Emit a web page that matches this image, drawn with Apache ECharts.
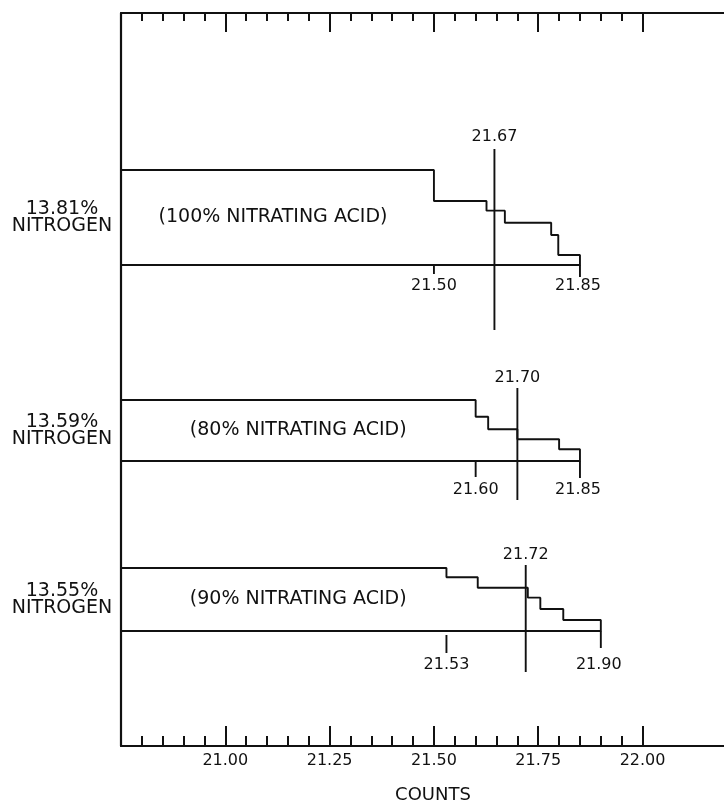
<!DOCTYPE html>
<html>
<head>
<meta charset="utf-8">
<script src="https://cdn.jsdelivr.net/npm/echarts@6/dist/echarts.min.js"></script>
<style>
html,body{margin:0;padding:0;background:#fff;}
#chart{width:724px;height:802px;}
</style>
</head>
<body>
<div id="chart"></div>
<script>
// ---------- DATA ----------
const xMin = 20.75, xMax = 22.20, tickMax = 22.00;
const tickValues = [21.00, 21.25, 21.50, 21.75, 22.00];
const tickLabels = ['21.00', '21.25', '21.50', '21.75', '22.00'];
const axisName = 'COUNTS';

const nitrogenLabels = ['13.81%\nNITROGEN', '13.59%\nNITROGEN', '13.55%\nNITROGEN'];
const acidLabels = ['(100% NITRATING ACID)', '(80% NITRATING ACID)', '(90% NITRATING ACID)'];

// step positions (counts) and remaining-fraction levels of each profile
const p1Steps  = [21.50, 21.626, 21.670, 21.781, 21.798, 21.85];
const p1Levels = [1, 0.674, 0.572, 0.445, 0.316, 0.105, 0];
const p2Steps  = [21.60, 21.63, 21.70, 21.80, 21.85];
const p2Levels = [1, 0.726, 0.520, 0.356, 0.192, 0];
const p3Steps  = [21.53, 21.605, 21.725, 21.755, 21.81, 21.90];
const p3Levels = [1, 0.852, 0.687, 0.529, 0.349, 0.175, 0];

const medianX    = [21.645, 21.70, 21.72];
const medianText = ['21.67', '21.70', '21.72'];
const startX     = [21.50, 21.60, 21.53];
const startText  = ['21.50', '21.60', '21.53'];
const endX       = [21.85, 21.85, 21.90];
const endText    = ['21.85', '21.85', '21.90'];

// ---------- LAYOUT / STYLE ----------
const INK = '#111111';
const FONT = 'DejaVu Sans';
const GL = 121, GW = 605;
const panels = [
  {top: 170, height: 95, medUp: 21, medDown: 65, medLbl: 12, sTick: [0, 9],  eTick: [0, 12], lblOff: 20.5, acidX: 20.84},
  {top: 400, height: 61, medUp: 12, medDown: 39, medLbl: 10, sTick: [0, 16], eTick: [0, 17], lblOff: 29,   acidX: 20.915},
  {top: 568, height: 63, medUp: 3,  medDown: 41, medLbl: 10, sTick: [4, 22], eTick: [0, 17], lblOff: 34,   acidX: 20.915}
];
const steps  = [p1Steps, p2Steps, p3Steps];
const levels = [p1Levels, p2Levels, p3Levels];

function buildProfile(s, l) {
  const pts = [[xMin, l[0]]];
  for (let i = 0; i < s.length; i++) {
    pts.push([s[i], l[i]]);
    pts.push([s[i], l[i + 1]]);
  }
  pts.push([xMin, 0]);
  return pts;
}

const grids = [
  {left: GL, top: 13, width: GW, height: 733, containLabel: false, outerBoundsMode: 'none'},
  {left: GL, top: 13, width: (tickMax - xMin) / (xMax - xMin) * GW, height: 733, containLabel: false, outerBoundsMode: 'none'}
];
panels.forEach(p => grids.push({left: GL, top: p.top, width: GW, height: p.height, containLabel: false, outerBoundsMode: 'none'}));

const hiddenX = (gi) => ({type: 'value', gridIndex: gi, min: xMin, max: xMax, show: false});
const hiddenY = (gi) => ({type: 'value', gridIndex: gi, min: 0, max: 1, show: false});

const xAxes = [
  {type: 'value', gridIndex: 0, position: 'bottom', min: xMin, max: xMax,
   axisLine: {show: true, lineStyle: {color: INK, width: 2.2}}, axisTick: {show: false}, axisLabel: {show: false}, splitLine: {show: false},
   name: axisName, nameLocation: 'middle', nameGap: 40,
   nameTextStyle: {fontFamily: FONT, fontSize: 18, color: INK, padding: [0, 0, 0, 19]}},
  {type: 'value', gridIndex: 0, position: 'top', min: xMin, max: xMax,
   axisLine: {show: true, lineStyle: {color: INK, width: 2.2}}, axisTick: {show: false}, axisLabel: {show: false}, splitLine: {show: false}},
  {type: 'value', gridIndex: 1, position: 'bottom', min: xMin, max: tickMax, interval: 0.25,
   axisLine: {show: false},
   axisTick: {show: true, inside: true, length: 20, lineStyle: {color: INK, width: 2}},
   minorTick: {show: true, splitNumber: 5, length: 10, lineStyle: {color: INK, width: 2}},
   axisLabel: {show: true, showMinLabel: false, margin: 7, fontFamily: FONT, fontSize: 16, color: INK,
     formatter: v => { const i = tickValues.findIndex(t => Math.abs(t - v) < 1e-6); return i >= 0 ? tickLabels[i] : ''; }},
   splitLine: {show: false}},
  {type: 'value', gridIndex: 1, position: 'top', min: xMin, max: tickMax, interval: 0.25,
   axisLine: {show: false},
   axisTick: {show: true, inside: true, length: 19, lineStyle: {color: INK, width: 2}},
   minorTick: {show: true, splitNumber: 5, length: 8, lineStyle: {color: INK, width: 2}},
   axisLabel: {show: false}, splitLine: {show: false}}
];
const yAxes = [
  {type: 'value', gridIndex: 0, min: 0, max: 1, position: 'left',
   axisLine: {show: true, lineStyle: {color: INK, width: 2.2}}, axisTick: {show: false}, axisLabel: {show: false}, splitLine: {show: false}},
  hiddenY(1)
];
panels.forEach((p, i) => { xAxes.push(hiddenX(i + 2)); yAxes.push(hiddenY(i + 2)); });

const series = [];
panels.forEach((p, k) => {
  series.push({
    type: 'line', xAxisIndex: k + 4, yAxisIndex: k + 2,
    data: buildProfile(steps[k], levels[k]),
    symbol: 'none', animation: false, clip: false,
    lineStyle: {color: INK, width: 1.9}
  });
  series.push({
    type: 'custom', xAxisIndex: k + 4, yAxisIndex: k + 2, clip: false, animation: false,
    data: [[medianX[k], 0]],
    renderItem: (params, api) => {
      const top = api.coord([medianX[k], 1])[1];
      const base = api.coord([medianX[k], 0])[1];
      const mx = api.coord([medianX[k], 0])[0];
      const sx = api.coord([startX[k], 0])[0];
      const ex = api.coord([endX[k], 0])[0];
      const left = api.coord([xMin, 0.5]);
      const acid = api.coord([p.acidX, 0.5]);
      const ls = {stroke: INK, lineWidth: 1.9};
      const ts = (text, x, y, align) => ({type: 'text', style: {text, x, y, align: align || 'center', verticalAlign: 'middle',
        fill: INK, font: '16px "' + FONT + '"'}});
      const children = [
        {type: 'line', shape: {x1: mx, y1: top - p.medUp, x2: mx, y2: base + p.medDown}, style: ls},
        ts(medianText[k], mx, top - p.medUp - p.medLbl),
        {type: 'line', shape: {x1: sx, y1: base + p.sTick[0], x2: sx, y2: base + p.sTick[1]}, style: ls},
        {type: 'line', shape: {x1: ex, y1: base + p.eTick[0], x2: ex, y2: base + p.eTick[1]}, style: ls},
        ts(startText[k], sx, base + p.lblOff),
        ts(endText[k], ex - 2, base + p.lblOff),
        {type: 'text', style: {text: acidLabels[k], x: acid[0], y: acid[1], align: 'left', verticalAlign: 'middle',
          fill: INK, font: '19px "' + FONT + '"'}},
        {type: 'text', style: {text: nitrogenLabels[k], x: left[0] - 59, y: left[1], align: 'center', verticalAlign: 'middle',
          fill: INK, font: '19px "' + FONT + '"', lineHeight: 17}}
      ];
      return {type: 'group', children};
    }
  });
});

const chart = echarts.init(document.getElementById('chart'), null, {renderer: 'canvas'});
chart.setOption({
  animation: false,
  backgroundColor: '#ffffff',
  grid: grids,
  xAxis: xAxes,
  yAxis: yAxes,
  series: series
});
</script>
</body>
</html>
